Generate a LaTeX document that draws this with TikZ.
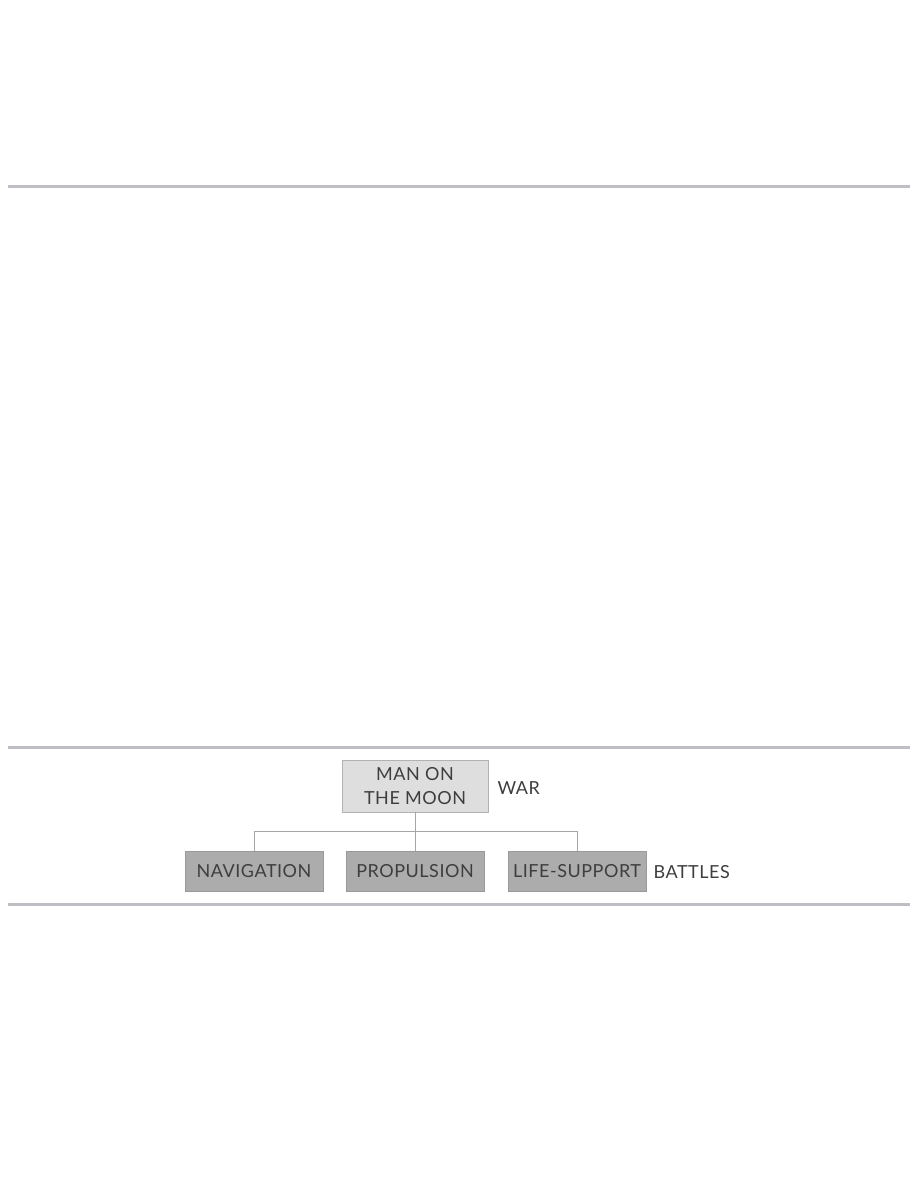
\documentclass[tikz,border=0pt]{standalone}
\usepackage{fontspec}
\setmainfont{Lato}[LetterSpace=3]
\definecolor{rulegray}{RGB}{190,190,196}
\definecolor{wargray}{RGB}{222,222,222}
\definecolor{battlegray}{RGB}{172,172,172}
\definecolor{textgray}{RGB}{62,62,62}
\tikzset{
  rulebar/.style={draw=rulegray,line width=3pt},
  warbox/.style={draw=gray!60,fill=wargray,minimum width=146pt,minimum height=52pt,align=center,text=textgray,font=\fontsize{18}{24}\selectfont},
  battlebox/.style={draw=gray!80,fill=battlegray,minimum width=138pt,minimum height=40pt,text=textgray,font=\fontsize{18}{20}\selectfont},
  levellabel/.style={anchor=west,text=textgray,font=\fontsize{18}{20}\selectfont},
  link/.style={draw=gray!70,line width=0.8pt}
}
\begin{document}
\begin{tikzpicture}[x=1pt,y=-1pt]
\useasboundingbox (0,0) rectangle (918,1188);
\draw[rulebar] (8,186) -- (910,186);
\draw[rulebar] (8,747) -- (910,747);
\draw[rulebar] (8,904) -- (910,904);
\node[warbox] (moon) at (415,786) {MAN ON\\THE MOON};
\node[levellabel] (war) at (494,788) {WAR};
\node[battlebox] (nav) at (254,871) {NAVIGATION};
\node[battlebox] (prop) at (415,871) {PROPULSION};
\node[battlebox] (life) at (577,871) {LIFE-SUPPORT};
\node[levellabel] (battles) at (650,872) {BATTLES};
\coordinate (split) at (415,831);
\draw[link] (moon.south) -- (split);
\draw[link] (split) -| (nav.north);
\draw[link] (split) -| (life.north);
\draw[link] (split) -- (prop.north);
\end{tikzpicture}
\end{document}
